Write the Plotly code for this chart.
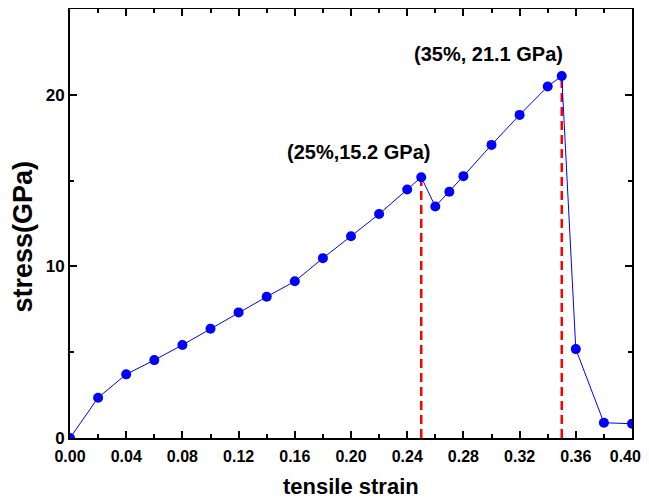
import plotly.graph_objects as go

strain = [0.00, 0.02, 0.04, 0.06, 0.08, 0.10, 0.12, 0.14, 0.16, 0.18, 0.20, 0.22,
          0.24, 0.25, 0.26, 0.27, 0.28, 0.30, 0.32, 0.34, 0.35, 0.36, 0.38, 0.40]
stress = [0.0, 2.35, 3.71, 4.54, 5.42, 6.37, 7.32, 8.23, 9.13, 10.48, 11.76, 13.05,
          14.48, 15.2, 13.49, 14.35, 15.26, 17.08, 18.83, 20.48, 21.1, 5.18, 0.89, 0.83]

peak_x = [0.25, 0.35]
peak_y = [15.2, 21.1]
peak_labels = ["(25%,15.2 GPa)", "(35%, 21.1 GPa)"]

x_ticks = [0.00, 0.04, 0.08, 0.12, 0.16, 0.20, 0.24, 0.28, 0.32, 0.36, 0.40]
y_ticks = [0, 10, 20]

FONT = "Liberation Sans, Arial, sans-serif"

fig = go.Figure()

for px, py in zip(peak_x, peak_y):
    fig.add_trace(go.Scatter(x=[px, px], y=[0, py], mode="lines",
                             line=dict(color="#ff0000", width=2.5, dash="9px,5px"),
                             showlegend=False, hoverinfo="skip"))

fig.add_trace(go.Scatter(x=strain, y=stress, mode="lines+markers",
                         line=dict(color="#0000ff", width=1),
                         marker=dict(color="#0000ff", size=10),
                         showlegend=False))

shifts = [(-63, 25), (-73, 22)]
for px, py, lab, (xs, ys) in zip(peak_x, peak_y, peak_labels, shifts):
    fig.add_annotation(x=px, y=py, text="<b>" + lab + "</b>",
                       showarrow=False, xanchor="center", yanchor="middle",
                       xshift=xs, yshift=ys,
                       font=dict(size=20, color="black", family=FONT))

# axis titles as annotations for precise placement
fig.add_annotation(xref="paper", yref="paper", x=0.5, y=0, text="<b>tensile strain</b>",
                   showarrow=False, xanchor="center", yanchor="middle", yshift=-48,
                   font=dict(size=22, color="black", family=FONT))
fig.add_annotation(xref="paper", yref="paper", x=0, y=0.4696, text="<b>stress(GPa)</b>",
                   showarrow=False, xanchor="center", yanchor="middle", xshift=-47,
                   textangle=-90, font=dict(size=27, color="black", family=FONT))

axis_common = dict(showline=True, linecolor="black", linewidth=2, mirror="ticks",
                   ticks="inside", ticklen=7, tickwidth=1.5, tickcolor="black",
                   showgrid=False, zeroline=False, automargin=False,
                   ticklabeloverflow="allow")

# last label padded with trailing no-break spaces so it stays inside the window
x_ticktext = [f"{v:.2f}" for v in x_ticks]
x_ticktext[-1] = x_ticktext[-1] + "\u00a0\u00a0\u00a0"

fig.update_xaxes(range=[0, 0.40], tickvals=x_ticks, ticktext=x_ticktext,
                 minor=dict(dtick=0.02, ticks="inside", ticklen=4, tickcolor="black", tickwidth=1.5),
                 ticklabelstandoff=3,
                 tickfont=dict(size=16, color="black", family=FONT, weight="bold"),
                 **axis_common)
fig.update_yaxes(range=[0, 25], tickvals=y_ticks,
                 minor=dict(dtick=5, ticks="inside", ticklen=4, tickcolor="black", tickwidth=1.5),
                 ticklabelstandoff=0,
                 tickfont=dict(size=17, color="black", family=FONT, weight="bold"),
                 **axis_common)

fig.update_layout(width=649, height=491, plot_bgcolor="white", paper_bgcolor="white",
                  margin=dict(l=62, r=25, t=1, b=61), autosize=False)

fig.write_html("out.html")
